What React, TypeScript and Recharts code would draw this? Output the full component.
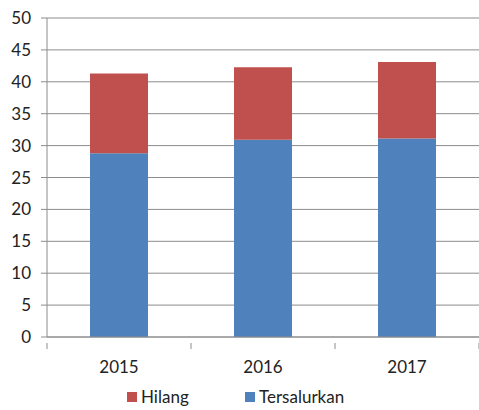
import { Bar, BarChart, CartesianGrid, Legend, XAxis, YAxis } from "recharts";

const years = ["2015", "2016", "2017"];
const tersalurkan = [28.8, 30.9, 31.1];
const hilang = [12.5, 11.4, 12.0];
const yTicks = [0, 5, 10, 15, 20, 25, 30, 35, 40, 45, 50];

const FONT = "Lato, sans-serif";
const RED = "#C0504D";
const BLUE = "#4F81BD";
const GRID = "#8C8C8C";

const data = years.map((y, i) => ({ year: y, Tersalurkan: tersalurkan[i], Hilang: hilang[i] }));

function LegendBox() {
  const items = [
    { name: "Hilang", color: RED, width: 118 },
    { name: "Tersalurkan", color: BLUE, width: 120 },
  ];
  return (
    <div style={{ display: "flex", paddingLeft: 127, paddingTop: 10, fontFamily: FONT, fontSize: 17, lineHeight: "20px", color: "#222" }}>
      {items.map((it) => (
        <div key={it.name} style={{ display: "flex", alignItems: "center", gap: 4, width: it.width }}>
          <span style={{ width: 10, height: 10, background: it.color, display: "inline-block" }} />
          <span>{it.name}</span>
        </div>
      ))}
    </div>
  );
}

// category label plus tick marks on the band edges
function YearTick(props: any) {
  const { x, y, payload, index, visibleTicksCount } = props;
  const half = payload.offset || 0;
  const top = y - 18;
  return (
    <g>
      <line x1={x - half} x2={x - half} y1={top} y2={top + 6} stroke={GRID} />
      {index === visibleTicksCount - 1 && (
        <line x1={x + half} x2={x + half} y1={top} y2={top + 6} stroke={GRID} />
      )}
      <text x={x} y={y} dy={12} textAnchor="middle" fontFamily={FONT} fontSize={17} fill="#222">
        {payload.value}
      </text>
    </g>
  );
}

export default function App() {
  return (
    <div style={{ position: "absolute", left: 0, top: 0, width: 479, height: 410, background: "#fff", overflow: "hidden" }}>
      <BarChart width={479} height={420} data={data} margin={{ top: 18, right: 0, left: 0, bottom: 0 }} barSize={58}>
        <CartesianGrid vertical={false} stroke={GRID} />
        <XAxis
          dataKey="year"
          height={40}
          tickLine={false}
          axisLine={{ stroke: GRID }}
          tick={<YearTick />}
          tickMargin={18}
        />
        <YAxis
          width={47}
          domain={[0, 50]}
          ticks={yTicks}
          interval={0}
          tickSize={6}
          tickMargin={10}
          axisLine={{ stroke: GRID }}
          tickLine={{ stroke: GRID }}
          tick={{ fontFamily: FONT, fontSize: 17, fill: "#222" }}
        />
        <Legend verticalAlign="bottom" height={43} content={() => <LegendBox />} />
        <Bar dataKey="Tersalurkan" stackId="a" fill={BLUE} isAnimationActive={false} />
        <Bar dataKey="Hilang" stackId="a" fill={RED} isAnimationActive={false} />
      </BarChart>
    </div>
  );
}
